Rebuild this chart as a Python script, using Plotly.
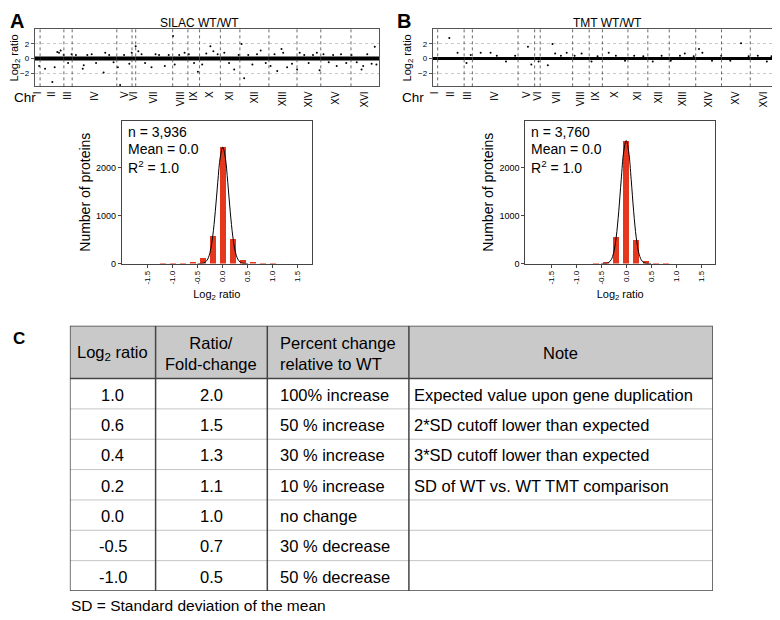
import plotly.graph_objects as go

# page is 780x620; the plot div sits 8px in from the page corner
OFF = 8
W, H = 780 - OFF, 620 - OFF
FONT = "Liberation Sans, Arial, sans-serif"


def px(x):
    return (x - OFF) / W


def py(y):
    return 1 - (y - OFF) / H


# ---------------- data ----------------
chromosomes = ["I", "II", "III", "IV", "V", "VI", "VII", "VIII", "IX", "X",
               "XI", "XII", "XIII", "XIV", "XV", "XVI"]
# proteins quantified per chromosome (read from the boundary spacing)
silac_chr_counts = [60, 272, 95, 510, 174, 42, 423, 174, 133, 238, 223, 332, 321, 272, 345, 322]
tmt_chr_counts = [54, 289, 90, 499, 181, 61, 354, 181, 144, 279, 217, 234, 289, 282, 314, 292]
# per-chromosome median log2 ratio (the dense central band)
silac_chr_median = [0.0, 0.0, 0.0, 0.0, 0.0, 0.0, 0.0, 0.0, 0.0, 0.0, 0.0, 0.0, 0.0, 0.0, 0.0, 0.0]
tmt_chr_median = [0.0, 0.0, 0.0, 0.0, 0.0, 0.0, 0.0, 0.0, 0.0, 0.0, 0.0, 0.0, 0.0, 0.0, 0.0, 0.0]

# proteins off the central band: (protein index, log2 ratio)
silac_points = [
    (49, -1.0), (117, -1.4), (200, -3.2), (227, -1.2), (257, 0.9), (276, 0.8), (295, 1.1),
    (330, 0.5), (380, -0.6), (420, 0.6), (470, 0.5), (548, -1.4), (559, -0.9), (600, 0.5),
    (650, 0.6), (700, -0.6), (786, -1.9), (805, 0.8), (850, 0.5), (900, -0.5), (949, -1.2),
    (975, -3.6), (1020, 0.5), (1080, -0.7), (1108, 0.8), (1153, 1.7), (1183, 1.0), (1220, 0.6),
    (1260, -0.6), (1334, -1.2), (1380, 0.6), (1420, 0.5), (1486, -1.0), (1530, 0.5),
    (1580, 3.1), (1599, -0.8), (1650, 0.5), (1712, 0.8), (1760, 0.6), (1820, -0.6),
    (1864, -1.8), (1913, -0.8), (1960, 0.7), (2007, 1.7), (2041, 1.0), (2090, 0.6),
    (2166, 0.8), (2220, -0.6), (2279, -1.5), (2330, 0.5), (2363, 2.0), (2393, -2.7),
    (2440, 0.5), (2487, -0.8), (2540, 0.6), (2582, 1.1), (2640, -0.6), (2695, -1.0),
    (2740, 0.6), (2771, -1.7), (2820, 1.3), (2839, 0.8), (2884, -1.2), (2940, -0.7),
    (2998, -1.5), (3028, 0.8), (3080, 0.5), (3130, -0.6), (3180, 0.5), (3224, 0.8),
    (3255, -1.6), (3300, 0.6), (3360, -0.5), (3410, 0.5), (3451, -1.0), (3500, 0.6),
    (3560, -0.6), (3620, 0.5), (3680, -0.5), (3735, -1.5), (3754, -1.0), (3800, 0.6),
    (3850, -0.7), (3886, 1.6), (3905, -0.8),
]
tmt_points = [
    (181, 2.8), (271, 0.8), (369, -0.6), (415, 0.5), (524, 0.8), (632, 0.8), (700, 0.4),
    (800, -0.4), (900, 0.4), (1040, 1.6), (1077, -0.8), (1156, -0.4), (1257, -0.9),
    (1308, 2.0), (1337, 0.7), (1400, 0.4), (1463, 0.8), (1550, 0.4), (1626, 0.7),
    (1734, -0.4), (1800, 0.3), (1922, 0.8), (2000, 0.4), (2100, -0.3), (2200, 0.4),
    (2300, 0.3), (2403, -0.4), (2500, 0.4), (2600, -0.3), (2700, 0.4), (2753, 0.7),
    (2850, 0.3), (2908, 1.3), (2945, 0.8), (3050, -0.3), (3150, 0.4), (3250, -0.3),
    (3367, 2.1), (3450, 0.3), (3550, 0.4), (3649, -0.4), (3700, 0.3),
]

# histograms of log2 ratios
bin_centers = [-1.2, -1.0, -0.8, -0.6, -0.4, -0.2, 0.0, 0.2, 0.4, 0.6, 0.8, 1.0]
silac_counts = [3, 6, 15, 35, 118, 580, 2430, 518, 83, 25, 8, 3]
tmt_counts = [0, 0, 0, 3, 35, 556, 2569, 500, 56, 8, 2, 0]
fit_x = [-0.5, -0.45, -0.4, -0.35, -0.3, -0.25, -0.2, -0.15, -0.1, -0.05, 0.0,
         0.05, 0.1, 0.15, 0.2, 0.25, 0.3, 0.35, 0.4, 0.45, 0.5]
silac_fit_y = [0, 3, 8, 30, 95, 256, 576, 1081, 1696, 2221, 2430,
               2221, 1696, 1081, 576, 256, 95, 30, 8, 3, 0]
tmt_fit_y = [0, 1, 5, 23, 81, 233, 552, 1082, 1749, 2334, 2569,
             2334, 1749, 1082, 552, 233, 81, 23, 5, 1, 0]
silac_stats = ["n = 3,936", "Mean = 0.0", "R<sup>2</sup> = 1.0"]
tmt_stats = ["n = 3,760", "Mean = 0.0", "R<sup>2</sup> = 1.0"]
hist_ticks = [-1.5, -1.0, -0.5, 0.0, 0.5, 1.0, 1.5]

# table
table_header = ["Log<sub>2</sub> ratio", "Ratio/<br>Fold-change",
                "Percent change<br>relative to WT", "Note"]
log2_ratio = ["1.0", "0.6", "0.4", "0.2", "0.0", "-0.5", "-1.0"]
fold_change = ["2.0", "1.5", "1.3", "1.1", "1.0", "0.7", "0.5"]
pct_change = ["100% increase", "50 % increase", "30 % increase", "10 % increase",
              "no change", "30 % decrease", "50 % decrease"]
notes = ["Expected value upon gene duplication", "2*SD cutoff lower than expected",
         "3*SD cutoff lower than expected", "SD of WT vs. WT TMT comparison", "", "", ""]

# ---------------- figure ----------------
fig = go.Figure()
shapes = []
annotations = []


def cumulative(counts):
    out = [0]
    for c in counts:
        out.append(out[-1] + c)
    return out


def manhattan(counts, medians, points, xa, ya, band_w):
    bounds = cumulative(counts)
    centers = [(bounds[i] + bounds[i + 1]) / 2 for i in range(len(counts))]
    bx, by = [], []
    for i, m in enumerate(medians):
        bx += [bounds[i], bounds[i + 1], None]
        by += [m, m, None]
    fig.add_trace(go.Scatter(x=bx, y=by, mode="lines", line=dict(color="black", width=band_w),
                             xaxis=xa, yaxis=ya, showlegend=False, hoverinfo="skip"))
    fig.add_trace(go.Scatter(x=[p[0] for p in points], y=[p[1] for p in points], mode="markers",
                             marker=dict(color="black", size=2), xaxis=xa, yaxis=ya,
                             showlegend=False))
    for b in bounds[1:-1]:
        shapes.append(dict(type="line", xref=xa, yref=ya + " domain", x0=b, x1=b, y0=0, y1=1,
                           line=dict(color="#444", width=0.8, dash="dot")))
    return bounds, centers


sb, sc = manhattan(silac_chr_counts, silac_chr_median, silac_points, "x", "y", 4)
tb, tc = manhattan(tmt_chr_counts, tmt_chr_median, tmt_points, "x2", "y2", 3)

for counts, fit_y, xa, ya in [(silac_counts, silac_fit_y, "x3", "y3"),
                              (tmt_counts, tmt_fit_y, "x4", "y4")]:
    fig.add_trace(go.Bar(x=bin_centers, y=counts, width=0.13,
                         marker=dict(color="#e5371d", line=dict(width=0)),
                         xaxis=xa, yaxis=ya, showlegend=False))
    fig.add_trace(go.Scatter(x=fit_x, y=fit_y, mode="lines",
                             line=dict(color="black", width=1, shape="spline"),
                             xaxis=xa, yaxis=ya, showlegend=False))

# ---------------- table (drawn on its own hidden axis pair, units = pixels) ----------------
col_w = [86.4, 112.6, 142.7, 306.3]
col_align = ["center", "center", "left", "left"]
head_align = ["center", "center", "left", "center"]
col_pad = [0, 0, 10.5, 3.5]
tbl_x0, tbl_top = 64.3, 328.3
hdr_h, row_h = 53.3, 30.6
columns = [log2_ratio, fold_change, pct_change, notes]
n_rows = len(log2_ratio)
tbl_w = sum(col_w)
tbl_h = hdr_h + row_h * n_rows
col_x = cumulative(col_w)
TFONT = 16.5

shapes.append(dict(type="rect", xref="x5", yref="y5", x0=0, x1=tbl_w, y0=0, y1=hdr_h,
                   fillcolor="#c9c9c9", line=dict(width=0), layer="below"))
for i in range(1, n_rows):
    yy = hdr_h + row_h * i
    shapes.append(dict(type="line", xref="x5", yref="y5", x0=0, x1=tbl_w, y0=yy, y1=yy,
                       line=dict(color="#c4c4c4", width=1)))
shapes.append(dict(type="line", xref="x5", yref="y5", x0=0, x1=tbl_w, y0=hdr_h, y1=hdr_h,
                   line=dict(color="#444", width=1.5)))
for xc in col_x[1:-1]:
    shapes.append(dict(type="line", xref="x5", yref="y5", x0=xc, x1=xc, y0=0, y1=tbl_h,
                       line=dict(color="#444", width=1.5)))
shapes.append(dict(type="rect", xref="x5", yref="y5", x0=0, x1=tbl_w, y0=0, y1=tbl_h,
                   line=dict(color="#444", width=1.5)))


def cell_x(j, align):
    if align == "center":
        return (col_x[j] + col_x[j + 1]) / 2, "center"
    return col_x[j] + col_pad[j], "left"


for j, txt in enumerate(table_header):
    x, xanc = cell_x(j, head_align[j])
    annotations.append(dict(text=txt, xref="x5", yref="y5", x=x, y=hdr_h / 2 + 1, xanchor=xanc,
                            yanchor="middle", align=head_align[j], font=dict(size=TFONT)))
for j, col in enumerate(columns):
    for i, txt in enumerate(col):
        if not txt:
            continue
        x, xanc = cell_x(j, col_align[j])
        annotations.append(dict(text=txt, xref="x5", yref="y5", x=x,
                                y=hdr_h + row_h * (i + 0.5) + 1, xanchor=xanc,
                                yanchor="middle", font=dict(size=TFONT)))

# ---------------- axes ----------------
man_y = [py(87), py(29.5)]
common_man_x = dict(showgrid=False, zeroline=False, showline=True, mirror=True, linecolor="#555",
                    linewidth=1, ticks="", tickangle=-90,
                    tickfont=dict(family=FONT, size=10, color="black"))
common_man_y = dict(range=[-3.8, 4.0], tickvals=[-2, 0, 2], showgrid=True, gridcolor="#c8c8c8",
                    griddash="dot", gridwidth=0.8, zeroline=False, showline=True, mirror=True,
                    linecolor="#555", linewidth=1, ticks="outside", ticklen=3, tickcolor="#555",
                    tickfont=dict(family=FONT, size=8, color="black"),
                    title=dict(text="Log<sub>2</sub> ratio",
                               font=dict(family=FONT, size=11, color="black"), standoff=4))
hist_x_common = dict(range=[-2.02, 1.78], tickvals=hist_ticks,
                     ticktext=[f"{v:.1f}" for v in hist_ticks],
                     tickangle=-90, showgrid=False, zeroline=False, showline=True, mirror=True,
                     linecolor="#444", linewidth=1, ticks="outside", ticklen=3, tickcolor="#444",
                     tickfont=dict(family=FONT, size=8, color="black"),
                     title=dict(text="Log<sub>2</sub> ratio",
                                font=dict(family=FONT, size=11, color="black"), standoff=6))
hist_y_common = dict(range=[0, 2980], tickvals=[0, 1000, 2000], showgrid=False, zeroline=False,
                     showline=True, mirror=True, linecolor="#444", linewidth=1, ticks="outside",
                     ticklen=3, tickcolor="#444", tickfont=dict(family=FONT, size=9, color="black"),
                     title=dict(text="Number of proteins",
                                font=dict(family=FONT, size=14, color="black"), standoff=2))
hist_y_dom = [py(265.7), py(121.7)]

fig.update_layout(
    width=W, height=H, autosize=False, margin=dict(l=0, r=0, t=0, b=0),
    paper_bgcolor="white", plot_bgcolor="white", bargap=0,
    font=dict(family=FONT, color="black"),
    xaxis=dict(domain=[px(29), px(376)], range=[0, sb[-1]], tickvals=sc, ticktext=chromosomes,
               anchor="y", **common_man_x),
    yaxis=dict(domain=man_y, anchor="x", **common_man_y),
    xaxis2=dict(domain=[px(430), px(777)], range=[0, tb[-1]], tickvals=tc, ticktext=chromosomes,
                anchor="y2", **common_man_x),
    yaxis2=dict(domain=man_y, anchor="x2", **common_man_y),
    xaxis3=dict(domain=[px(116.7), px(308)], anchor="y3", **hist_x_common),
    yaxis3=dict(domain=hist_y_dom, anchor="x3", **hist_y_common),
    xaxis4=dict(domain=[px(523.3), px(714.6)], anchor="y4", **hist_x_common),
    yaxis4=dict(domain=hist_y_dom, anchor="x4", **hist_y_common),
    xaxis5=dict(domain=[px(tbl_x0), px(tbl_x0 + tbl_w)], range=[0, tbl_w], visible=False,
                anchor="y5", fixedrange=True),
    yaxis5=dict(domain=[py(tbl_top + tbl_h), py(tbl_top)], range=[tbl_h, 0], visible=False,
                anchor="x5", fixedrange=True),
)

annotations += [
    dict(text="<b>A</b>", x=px(2), y=py(OFF), xanchor="left", yanchor="top", font=dict(size=20)),
    dict(text="<b>B</b>", x=px(392), y=py(OFF), xanchor="left", yanchor="top", font=dict(size=20)),
    dict(text="<b>C</b>", x=px(5), y=py(330), xanchor="left", yanchor="top", font=dict(size=17)),
    dict(text="SILAC WT/WT", x=px(195), y=py(23), xanchor="center", yanchor="middle",
         font=dict(size=12)),
    dict(text="TMT WT/WT", x=px(606), y=py(23), xanchor="center", yanchor="middle",
         font=dict(size=12)),
    dict(text="Chr", x=px(6), y=py(98), xanchor="left", yanchor="middle", font=dict(size=13.5)),
    dict(text="Chr", x=px(397), y=py(98), xanchor="left", yanchor="middle", font=dict(size=13.5)),
    dict(text="SD = Standard deviation of the mean", x=px(63), y=py(610.5), xanchor="left",
         yanchor="middle", font=dict(size=15.5)),
]
for stats, x0 in [(silac_stats, 121), (tmt_stats, 527)]:
    for i, s in enumerate(stats):
        annotations.append(dict(text=s, x=px(x0), y=py(133 + 17.6 * i), xanchor="left",
                                yanchor="middle", font=dict(size=14)))
for a in annotations:
    a.setdefault("xref", "paper")
    a.setdefault("yref", "paper")
    a.setdefault("showarrow", False)
    a["font"] = dict(family=FONT, color="black", **a["font"])

fig.update_layout(shapes=shapes, annotations=annotations)
fig.write_html("out.html")
